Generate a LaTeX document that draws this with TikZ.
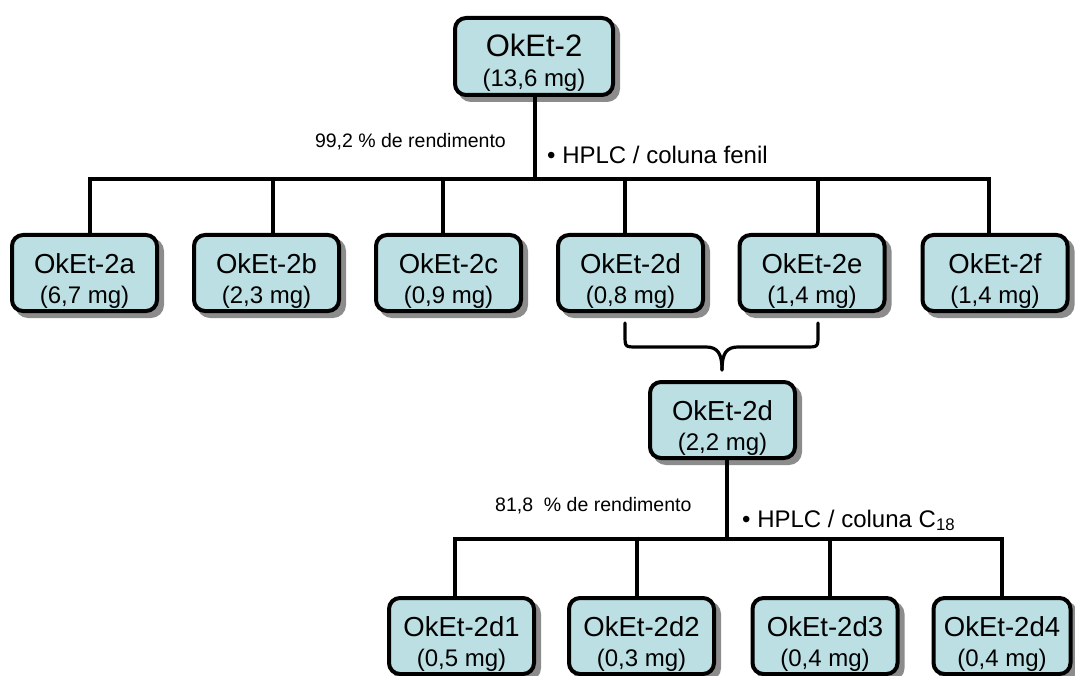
\documentclass[tikz,border=0pt]{standalone}
\usepackage{fontspec}
\setmainfont{Liberation Sans}
\usetikzlibrary{shadows}

\definecolor{boxfill}{RGB}{187,223,227}
\definecolor{shadowgray}{RGB}{140,140,140}

\tikzset{
  fracbox/.style={draw=black, line width=4pt, rounded corners=11pt, fill=boxfill,
    minimum width=145pt, minimum height=76pt, inner sep=0pt,
    general shadow={fill=shadowgray, draw=shadowgray, line width=4pt,
      shadow xshift=5pt, shadow yshift=-5pt}},
  ttl/.style={anchor=base, inner sep=0pt, font=\fontsize{27.5}{30}\selectfont},
  mss/.style={anchor=base, inner sep=0pt, font=\fontsize{24}{26}\selectfont},
  conn/.style={line width=3.2pt, line cap=rect},
  brace/.style={line width=3.2pt, line cap=round, line join=round},
  yieldlbl/.style={inner sep=0pt, font=\fontsize{19.5}{21}\selectfont},
  methlbl/.style={inner sep=0pt, font=\fontsize{24}{26}\selectfont},
}

% box with a name line and a mass line underneath
\newcommand\fraction[5]{%
  \node[fracbox] (#1) at (#2,#3) {};
  \node[ttl] (#1-t) at (#1.center) {#4};
  \node[mss] (#1-m) at ([yshift=-30pt]#1.center) {#5};
}

\begin{document}
\begin{tikzpicture}[x=1pt,y=-1pt]
\useasboundingbox (0,0) rectangle (1075,676);

% crude fraction
\node[fracbox, minimum width=158pt, minimum height=77pt] (top) at (534,56.5) {};
\node[ttl, font=\fontsize{31}{33}\selectfont] (top-t) at (top.center) {OkEt-2};
\node[mss] (top-m) at ([yshift=-30pt]top.center) {(13,6 mg)};

% first separation
\fraction{f2a}{84.5}{273}{OkEt-2a}{(6,7 mg)}
\fraction{f2b}{266.5}{273}{OkEt-2b}{(2,3 mg)}
\fraction{f2c}{448.5}{273}{OkEt-2c}{(0,9 mg)}
\fraction{f2d}{630.5}{273}{OkEt-2d}{(0,8 mg)}
\fraction{f2e}{812}{273}{OkEt-2e}{(1,4 mg)}
\fraction{f2f}{995}{273}{OkEt-2f}{(1,4 mg)}

% pooled fraction
\fraction{mid}{722.5}{420}{OkEt-2d}{(2,2 mg)}

% second separation
\fraction{g1}{461.5}{636}{OkEt-2d1}{(0,5 mg)}
\fraction{g2}{641.5}{636}{OkEt-2d2}{(0,3 mg)}
\fraction{g3}{825}{636}{OkEt-2d3}{(0,4 mg)}
\node[fracbox, minimum width=137pt] (g4) at (1002,636) {};
\node[ttl] (g4-t) at (g4.center) {OkEt-2d4};
\node[mss] (g4-m) at ([yshift=-30pt]g4.center) {(0,4 mg)};

% first tree
\coordinate (p1) at (90,179);
\coordinate (p2) at (273,179);
\coordinate (p3) at (443,179);
\coordinate (p4) at (625,179);
\coordinate (p5) at (818,179);
\coordinate (p6) at (989,179);
\draw[conn] (top.south -| 535,0) -- (p4 -| 535,0);
\draw[conn] (p1) -- (p6);
\draw[conn] (p1) -- (p1 |- f2a.north);
\draw[conn] (p2) -- (p2 |- f2b.north);
\draw[conn] (p3) -- (p3 |- f2c.north);
\draw[conn] (p4) -- (p4 |- f2d.north);
\draw[conn] (p5) -- (p5 |- f2e.north);
\draw[conn] (p6) -- (p6 |- f2f.north);

% brace joining 2d and 2e
\coordinate (brL) at (625,323);
\coordinate (brR) at (818,323);
\coordinate (brT) at (mid.north -| 722,0);
\draw[brace] (brL) -- (625,335) .. controls (625,347) .. (637,347) -- (706,347)
  .. controls (718,347) and (722,354) .. ([yshift=10pt]brT);
\draw[brace] (brR) -- (818,335) .. controls (818,347) .. (806,347) -- (738,347)
  .. controls (726,347) and (722,354) .. ([yshift=10pt]brT);

% second tree
\coordinate (q1) at (455,539);
\coordinate (q2) at (637,539);
\coordinate (q3) at (830,539);
\coordinate (q4) at (1002,539);
\draw[conn] (mid.south -| 727,0) -- (q1 -| 727,0);
\draw[conn] (q1) -- (q4);
\draw[conn] (q1) -- (q1 |- g1.north);
\draw[conn] (q2) -- (q2 |- g2.north);
\draw[conn] (q3) -- (q3 |- g3.north);
\draw[conn] (q4) -- (q4 |- g4.north);

% labels
\node[yieldlbl, anchor=base east] (y1) at (506,148) {99,2 \% de rendimento};
\node[methlbl, anchor=base west] (m1) at (547,164) {• HPLC / coluna fenil};
\node[yieldlbl, anchor=base west] (y2) at (495,511) {81,8~ \% de rendimento};
\node[methlbl, anchor=base west] (m2) at (742,527) {• HPLC / coluna C\textsubscript{18}};
\end{tikzpicture}
\end{document}
